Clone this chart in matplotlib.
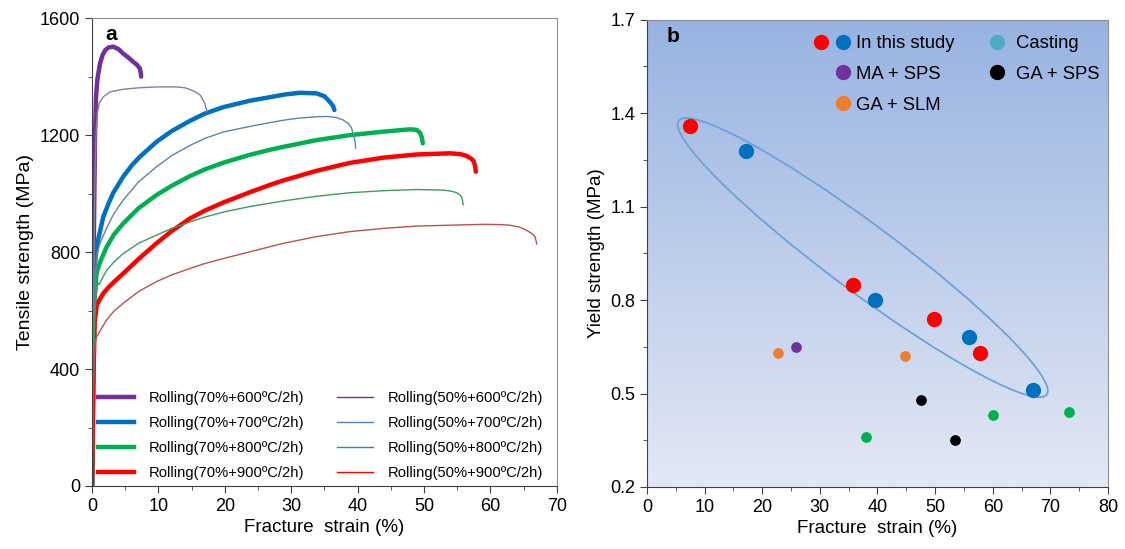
import numpy as np
import matplotlib.pyplot as plt
from matplotlib.patches import Ellipse
from matplotlib.lines import Line2D
from matplotlib.legend_handler import HandlerTuple

plt.rcParams['font.family'] = ['Liberation Sans', 'DejaVu Sans']

# ---- panel a: stress-strain curves (strain %, stress MPa) ----
labels_a = ["Rolling(70%+600ºC/2h)", "Rolling(70%+700ºC/2h)",
            "Rolling(70%+800ºC/2h)", "Rolling(70%+900ºC/2h)",
            "Rolling(50%+600ºC/2h)", "Rolling(50%+700ºC/2h)",
            "Rolling(50%+800ºC/2h)", "Rolling(50%+900ºC/2h)"]

r70_600_x = [0, 0.15, 0.3, 0.45, 0.6, 0.8, 1.2, 1.6, 2.0, 2.5, 3.2, 4.0, 4.7, 5.5, 6.2, 6.8, 7.2, 7.35, 7.4]
r70_600_y = [0, 400, 900, 1200, 1330, 1390, 1445, 1475, 1491, 1500, 1503, 1494, 1479, 1465, 1451, 1440, 1428, 1412, 1400]
r70_700_x = [0, 0.2, 0.4, 0.7, 1.0, 1.7, 2.5, 3.2, 4.7, 6.0, 7.2, 9.7, 12.0, 14.75, 17.0, 19.8,
             23.8, 26.8, 29.0, 31.3, 33.8, 35.0, 35.8, 36.3, 36.5]
r70_700_y = [0, 450, 750, 818, 850, 921, 967, 1003, 1058, 1097, 1126, 1177, 1214, 1249, 1274, 1296,
             1318, 1330, 1339, 1345, 1343, 1333, 1314, 1300, 1286]
r70_800_x = [0, 0.2, 0.4, 0.7, 1.2, 2.2, 3.3, 4.7, 7.0, 9.7, 12.0, 14.75, 17.0, 19.8, 23.8, 26.8,
             28.8, 33.8, 38.8, 43.85, 47.9, 48.9, 49.4, 49.7, 49.8]
r70_800_y = [0, 400, 650, 730, 765, 818, 860, 898, 950, 995, 1027, 1060, 1083, 1106, 1133, 1150,
             1160, 1183, 1200, 1212, 1220, 1218, 1208, 1190, 1172]
r70_900_x = [0, 0.2, 0.4, 0.7, 1.2, 1.7, 2.5, 3.5, 4.7, 7.0, 9.7, 12.0, 14.75, 17.0, 19.8, 23.8,
             26.8, 28.8, 33.8, 38.8, 43.85, 48.9, 53.9, 55.5, 56.4, 57.2, 57.5, 57.7, 57.8]
r70_900_y = [0, 350, 560, 618, 640, 659, 680, 702, 727, 776, 830, 872, 915, 942, 970, 1005,
             1030, 1045, 1078, 1105, 1123, 1134, 1138, 1135, 1129, 1118, 1109, 1092, 1075]

r50_600_x = [0, 0.2, 0.4, 0.6, 0.8, 1.1, 1.7, 2.7, 4.7, 7.0, 9.7, 12.7, 14.0, 14.75, 15.6, 16.3, 17.0, 17.3]
r50_600_y = [0, 500, 1000, 1200, 1275, 1310, 1331, 1348, 1357, 1362, 1365, 1365, 1362, 1356, 1348, 1337, 1308, 1280]
r50_700_x = [0, 0.2, 0.4, 0.7, 1.2, 2.2, 3.3, 4.7, 7.0, 9.7, 12.0, 14.75, 17.0, 19.8, 23.8, 26.8,
             28.8, 31.0, 33.8, 35.5, 36.8, 37.8, 38.6, 39.1, 39.3, 39.6, 39.7]
r50_700_y = [0, 400, 650, 790, 830, 882, 932, 978, 1040, 1092, 1130, 1165, 1189, 1211, 1230, 1243,
             1251, 1258, 1263, 1264, 1260, 1252, 1240, 1224, 1206, 1180, 1155]
r50_800_x = [0, 0.2, 0.4, 0.6, 0.8, 0.95, 1.1, 1.3, 2.2, 3.3, 4.7, 7.0, 9.7, 12.0, 14.75, 17.0, 19.8,
             23.8, 28.8, 33.8, 38.8, 43.85, 48.9, 52.9, 54.2, 54.9, 55.4, 55.65, 55.8, 55.9]
r50_800_y = [0, 350, 560, 650, 685, 693, 690, 700, 738, 766, 795, 830, 858, 881, 903, 920, 937,
             956, 975, 991, 1003, 1010, 1014, 1012, 1008, 1003, 996, 989, 975, 961]
r50_900_x = [0, 0.15, 0.3, 0.5, 0.7, 1.2, 2.2, 3.3, 4.7, 7.0, 9.7, 12.0, 14.75, 17.0, 19.8, 24.8,
             28.8, 33.8, 38.8, 43.85, 48.9, 53.9, 58.9, 61.5, 62.9, 64.3, 65.4, 66.2, 66.7, 67.0]
r50_900_y = [0, 250, 420, 495, 510, 530, 568, 598, 625, 665, 699, 722, 744, 761, 778, 807,
             830, 853, 870, 881, 889, 892, 895, 894, 892, 886, 875, 864, 853, 827]

curves_x = [r70_600_x, r70_700_x, r70_800_x, r70_900_x, r50_600_x, r50_700_x, r50_800_x, r50_900_x]
curves_y = [r70_600_y, r70_700_y, r70_800_y, r70_900_y, r50_600_y, r50_700_y, r50_800_y, r50_900_y]
line_colors = ["#7030a0", "#0070c0", "#00b050", "#ff0000", "#8a7aa6", "#5b83a8", "#3d9a60", "#bb5050"]
legend_colors = ["#7030a0", "#0070c0", "#00b050", "#ff0000", "#7030a0", "#4f81bd", "#00b050", "#ff0000"]
widths = [3.2, 3.2, 3.2, 3.2, 1.0, 1.0, 1.0, 1.0]

# ---- panel b: yield strength vs fracture strain ----
study_red_x = [7.4, 35.8, 49.8, 57.8]
study_red_y = [1.36, 0.85, 0.74, 0.63]
study_blue_x = [17.2, 39.6, 55.9, 66.9]
study_blue_y = [1.28, 0.80, 0.68, 0.51]
ma_sps_x = [25.9]
ma_sps_y = [0.65]
ga_slm_x = [22.7, 44.7]
ga_slm_y = [0.63, 0.62]
ga_sps_x = [47.6, 53.5]
ga_sps_y = [0.48, 0.35]
casting_x = [38.0, 60.0, 73.2]
casting_y = [0.36, 0.43, 0.44]

fig = plt.figure(figsize=(11.25, 5.49), dpi=100)
ax1 = fig.add_axes([0.0818, 0.1148, 0.4132, 0.852])
ax2 = fig.add_axes([0.575, 0.113, 0.410, 0.851])

for xs, ys, c, w in zip(curves_x, curves_y, line_colors, widths):
    ax1.plot(xs, ys, color=c, lw=w, solid_capstyle='round', solid_joinstyle='round')

handles = [Line2D([], [], color=c, lw=w) for c, w in zip(legend_colors, widths)]
ax1.legend(handles, labels_a, ncol=2, loc='lower left', bbox_to_anchor=(0.0, 0.0),
           frameon=False, fontsize=10.6, handlelength=2.47, handletextpad=1.0,
           columnspacing=2.2, labelspacing=0.74, borderaxespad=0.0, borderpad=0.4)

ax1.set_xlim(0, 70)
ax1.set_ylim(0, 1600)
ax1.set_xticks(np.arange(0, 71, 10))
ax1.set_xticks(np.arange(0, 71, 5), minor=True)
ax1.set_yticks(np.arange(0, 1601, 400))
ax1.set_yticks(np.arange(0, 1601, 200), minor=True)
ax1.set_xlabel("Fracture  strain (%)", fontsize=13.5, labelpad=3)
ax1.set_ylabel("Tensile strength (MPa)", fontsize=14, labelpad=4)
ax1.text(0.028, 0.985, "a", transform=ax1.transAxes, fontsize=15, fontweight='bold', va='top')

# gradient background for panel b
grad = np.linspace(0, 1, 256).reshape(-1, 1)
top = np.array([0x98, 0xb3, 0xe2]) / 255
bot = np.array([0xe3, 0xe8, 0xf4]) / 255
img = bot + (top - bot) * grad
ax2.imshow(img[:, None, :].repeat(2, axis=1), extent=[0, 1, 0, 1], origin='lower',
           transform=ax2.transAxes, aspect='auto', zorder=0)

ax2.scatter(study_red_x, study_red_y, s=100, color="#ff0000", zorder=3)
ax2.scatter(study_blue_x, study_blue_y, s=100, color="#0070c0", zorder=3)
ax2.scatter(ma_sps_x, ma_sps_y, s=45, color="#7030a0", zorder=3)
ax2.scatter(ga_slm_x, ga_slm_y, s=45, color="#ed7d31", zorder=3)
ax2.scatter(ga_sps_x, ga_sps_y, s=45, color="#000000", zorder=3)
ax2.scatter(casting_x, casting_y, s=45, color="#00b050", zorder=3)

ell = Ellipse((0.468, 0.491), 0.99, 0.145, angle=-36.3, transform=ax2.transAxes,
              fill=False, ec="#6fa0d8", lw=1.3, zorder=2)
ax2.add_patch(ell)

ms = 10


def dot(c):
    return Line2D([], [], marker='o', ls='', color=c, ms=ms)


def blank():
    return Line2D([], [], marker='', ls='')


leg1 = ax2.legend([(dot("#ff0000"), dot("#0070c0")), (blank(), dot("#7030a0")), (blank(), dot("#ed7d31"))],
                  ["In this study", "MA + SPS", "GA + SLM"],
                  handler_map={tuple: HandlerTuple(ndivide=None, pad=0.0)},
                  loc='upper left', bbox_to_anchor=(0.354, 0.967), frameon=False,
                  fontsize=13.3, handlelength=2.38, handletextpad=0.1,
                  labelspacing=0.74, borderaxespad=0.0, borderpad=0.0)
ax2.add_artist(leg1)
ax2.legend([dot("#4bacc6"), dot("#000000")], ["Casting", "GA + SPS"],
           loc='upper left', bbox_to_anchor=(0.740, 0.967), frameon=False,
           fontsize=13.3, handlelength=1.0, handletextpad=0.5,
           labelspacing=0.74, borderaxespad=0.0, borderpad=0.0)

ax2.set_xlim(0, 80)
ax2.set_ylim(0.2, 1.7)
ax2.set_xticks(np.arange(0, 81, 10))
ax2.set_xticks(np.arange(0, 81, 5), minor=True)
ax2.set_yticks([0.2, 0.5, 0.8, 1.1, 1.4, 1.7])
ax2.set_yticks(np.arange(0.2, 1.71, 0.15), minor=True)
ax2.set_yticklabels(["0.2", "0.5", "0.8", "1.1", "1.4", "1.7"])
ax2.set_xlabel("Fracture  strain (%)", fontsize=13.5, labelpad=3)
ax2.set_ylabel("Yield strength (MPa)", fontsize=13.5, labelpad=4)
ax2.text(0.042, 0.985, "b", transform=ax2.transAxes, fontsize=15, fontweight='bold', va='top')

for ax in (ax1, ax2):
    ax.tick_params(which='major', direction='out', length=5, labelsize=13, color='#404040')
    ax.tick_params(which='minor', direction='out', length=3, color='#404040')
    ax.spines['top'].set_color('#909090')
    ax.spines['right'].set_color('#909090')
    ax.spines['left'].set_color('#404040')
    ax.spines['bottom'].set_color('#404040')

fig.savefig("out.png", dpi=100)
